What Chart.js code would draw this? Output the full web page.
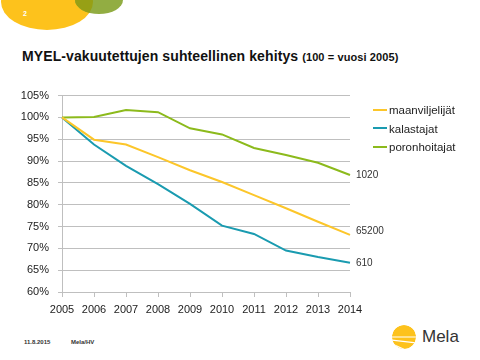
<!DOCTYPE html>
<html><head><meta charset="utf-8">
<script src="https://cdn.jsdelivr.net/npm/chart.js@4/dist/chart.umd.min.js"></script>
<style>
html,body{margin:0;padding:0;background:#fff;}
#wrap{position:relative;width:480px;height:360px;overflow:hidden;font-family:"Liberation Sans",Arial,sans-serif;}
#deco{position:absolute;left:0;top:0;}
#title{position:absolute;left:22px;top:48px;font-weight:bold;font-size:14px;color:#111;white-space:nowrap;font-family:"Liberation Sans Narrow","Liberation Sans",sans-serif;letter-spacing:0.1px}
#title span{font-size:11px;}
#cwrap{position:absolute;left:0;top:80px;width:480px;height:240px;}
#legend{position:absolute;left:373px;top:103px;font-size:11.5px;color:#222;font-family:"Liberation Sans Narrow","Liberation Sans",sans-serif;}
#legend div{height:18.5px;line-height:15px;white-space:nowrap;}
#legend i{display:inline-block;width:14px;height:2px;vertical-align:middle;margin-right:2px;position:relative;top:-1px}
.foot{position:absolute;top:339px;font-size:6px;color:#333;font-weight:bold}
#mela{position:absolute;left:422px;top:327px;font-size:17px;color:#333;font-family:"Liberation Sans",sans-serif;}
</style></head>
<body><div id="wrap">
<svg id="deco" width="480" height="360">
<defs><clipPath id="cy"><ellipse cx="47" cy="2" rx="46" ry="28"/></clipPath>
<clipPath id="sun"><circle cx="404" cy="337" r="12"/></clipPath></defs>
<ellipse cx="47" cy="2" rx="46" ry="28" fill="#fdc21c"/>
<ellipse cx="99" cy="0" rx="24" ry="14" fill="#92ad42"/>
<ellipse cx="99" cy="0" rx="24" ry="14" fill="#97a015" clip-path="url(#cy)"/>
<text x="23" y="16" fill="#fff" font-size="7" font-weight="bold" font-family="Liberation Sans">2</text>
<g clip-path="url(#sun)">
<circle cx="404" cy="337" r="12" fill="#fdc21c"/>
<path d="M390 337 L418 337 M390 340 L418 343 M390 343 L410 352 M392 346 L400 354" stroke="#fff" stroke-width="1.2" fill="none"/>
</g>
</svg>
<div id="title">MYEL-vakuutettujen suhteellinen kehitys <span>(100 = vuosi 2005)</span></div>
<div id="cwrap"><canvas id="c" width="480" height="240"></canvas></div>
<div id="legend"></div>
<div class="foot" style="left:24px">11.8.2015</div>
<div class="foot" style="left:71px">Mela/HV</div>
<div id="mela">Mela</div>
</div>
<script>
const years = ['2005','2006','2007','2008','2009','2010','2011','2012','2013','2014'];
const maanviljelijat = [100, 94.9, 93.8, 90.9, 87.9, 85.2, 82.2, 79.2, 76.1, 73.1];
const kalastajat = [100, 93.8, 88.9, 84.7, 80.2, 75.2, 73.3, 69.5, 68.0, 66.7];
const poronhoitajat = [100, 100.1, 101.7, 101.2, 97.5, 96.1, 93.0, 91.4, 89.6, 86.8];
const seriesNames = ['maanviljelijät','kalastajat','poronhoitajat'];
const endLabels = ['65200','610','1020'];
const colors = ['#fcc62a','#1a9bb0','#8cba1c'];
const yTicks = [60,65,70,75,80,85,90,95,100,105];

const leg = document.getElementById('legend');
seriesNames.forEach((n,i)=>{const d=document.createElement('div');d.innerHTML='<i style="background:'+colors[i]+'"></i>'+n;leg.appendChild(d);});

const endLabelPlugin = {
  id:'endLabels',
  afterDatasetsDraw(chart){
    const ctx = chart.ctx;
    ctx.save();
    ctx.font = '10px "Liberation Sans Narrow","Liberation Sans",sans-serif';
    ctx.fillStyle = '#333';
    ctx.textBaseline = 'middle';
    chart.data.datasets.forEach((ds,i)=>{
      const meta = chart.getDatasetMeta(i);
      const p = meta.data[meta.data.length-1];
      const dy = i===0 ? -4 : 0;
      ctx.fillText(endLabels[i], p.x+6, p.y+dy);
    });
    ctx.restore();
  }
};

const tickFont = {size:11, family:'"Liberation Sans Narrow","Liberation Sans",sans-serif'};
new Chart(document.getElementById('c'), {
  type:'line',
  data:{labels:years, datasets:[
    {label:seriesNames[0], data:maanviljelijat, borderColor:colors[0]},
    {label:seriesNames[1], data:kalastajat, borderColor:colors[1]},
    {label:seriesNames[2], data:poronhoitajat, borderColor:colors[2]}
  ].map(d=>Object.assign(d,{borderWidth:2, pointRadius:0, tension:0, fill:false}))},
  options:{
    responsive:false, animation:false, devicePixelRatio:1,
    layout:{padding:{left:0,right:130,top:14,bottom:0}},
    plugins:{legend:{display:false}, tooltip:{enabled:false}},
    scales:{
      x:{offset:false,
        grid:{drawOnChartArea:false, drawTicks:true, tickLength:5, color:'#bfbfbf'},
        border:{color:'#bfbfbf'},
        ticks:{color:'#222', font:tickFont, padding:6, maxRotation:0, autoSkip:false},
        afterFit(s){s.height=28;}
      },
      y:{min:60, max:105,
        afterBuildTicks(s){s.ticks = yTicks.map(v=>({value:v}));},
        grid:{color:'#bfbfbf', tickLength:4},
        border:{color:'#bfbfbf'},
        ticks:{color:'#222', font:tickFont, padding:9, callback:v=>v+'%'},
        afterFit(s){s.width=62;}
      }
    }
  },
  plugins:[endLabelPlugin]
});
</script>
</body></html>
